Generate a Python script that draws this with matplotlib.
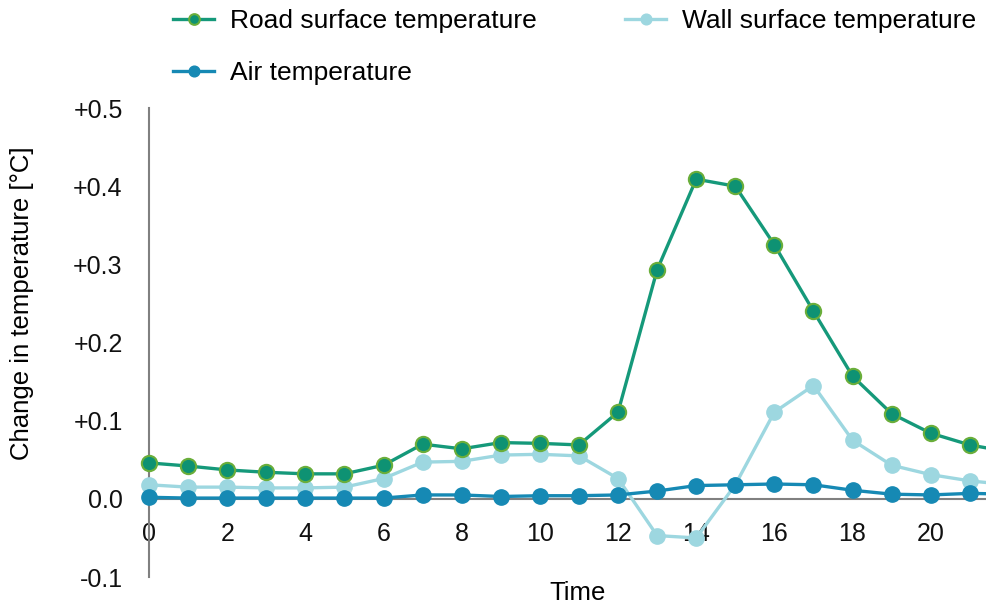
import matplotlib
matplotlib.use('Agg')
import matplotlib.pyplot as plt

plt.rcParams['font.family'] = ['Liberation Sans', 'DejaVu Sans']

# 時刻 (hour)
hours = list(range(23))
road = [0.046, 0.042, 0.037, 0.034, 0.032, 0.032, 0.043, 0.070, 0.064, 0.072, 0.071, 0.069,
        0.111, 0.293, 0.409, 0.400, 0.325, 0.240, 0.157, 0.109, 0.084, 0.069, 0.060]
wall = [0.018, 0.015, 0.015, 0.014, 0.014, 0.015, 0.026, 0.047, 0.048, 0.056, 0.057, 0.055,
        0.026, -0.047, -0.050, 0.018, 0.111, 0.145, 0.075, 0.043, 0.031, 0.023, 0.018]
air = [0.002, 0.001, 0.001, 0.001, 0.001, 0.001, 0.001, 0.005, 0.005, 0.003, 0.004, 0.004,
       0.005, 0.010, 0.017, 0.018, 0.019, 0.018, 0.011, 0.006, 0.005, 0.007, 0.006]
yticks = [-0.1, 0.0, 0.1, 0.2, 0.3, 0.4, 0.5]
ytick_labels = ['-0.1', '0.0', '+0.1', '+0.2', '+0.3', '+0.4', '+0.5']
xticks = list(range(0, 21, 2))

fig = plt.figure(figsize=(9.87, 6.07), dpi=100)
ax = fig.add_axes([0.151, 0.0494, 0.849, 0.7726])

l_wall, = ax.plot(hours, wall, color='#9dd7e0', lw=2.4, marker='o', ms=11,
                  mfc='#9dd7e0', mec='#9dd7e0', clip_on=False, zorder=3,
                  label='Wall surface temperature')
l_road, = ax.plot(hours, road, color='#15997a', lw=2.4, marker='o', ms=11,
                  mfc='#0e9273', mec='#6aae3a', mew=1.5, clip_on=False, zorder=4,
                  label='Road surface temperature')
l_air, = ax.plot(hours, air, color='#1689b4', lw=2.4, marker='o', ms=11,
                 mfc='#1689b4', mec='#1689b4', clip_on=False, zorder=5,
                 label='Air temperature')

ax.set_xlim(0, 21.44)
ax.set_ylim(-0.1, 0.5)
ax.set_yticks(yticks)
ax.set_yticklabels(ytick_labels)
ax.set_xticks(xticks)
ax.tick_params(axis='both', length=0, labelsize=18, colors='#111111')
ax.tick_params(axis='y', pad=19)
ax.tick_params(axis='x', pad=17)

for s in ['top', 'right']:
    ax.spines[s].set_visible(False)
ax.spines['bottom'].set_position(('data', 0))
ax.spines['bottom'].set_color('#808080')
ax.spines['bottom'].set_linewidth(1.5)
ax.spines['left'].set_color('#808080')
ax.spines['left'].set_linewidth(1.5)

ax.set_ylabel('Change in temperature [°C]', fontsize=18.5)
ax.yaxis.set_label_coords(-0.137, 0.584)
ax.text(0.511, -0.034, 'Time', transform=ax.transAxes, fontsize=18.5,
        ha='center', va='center')

fig.legend([l_road, l_air, l_wall],
           [l_road.get_label(), l_air.get_label(), l_wall.get_label()],
           loc='upper left', bbox_to_anchor=(0.157, 1.0155), ncol=2, frameon=False,
           fontsize=19, handlelength=1.55, handletextpad=0.6, columnspacing=3.35,
           labelspacing=1.06, borderpad=0.2, markerscale=0.7)

fig.savefig('out.png', dpi=100)
